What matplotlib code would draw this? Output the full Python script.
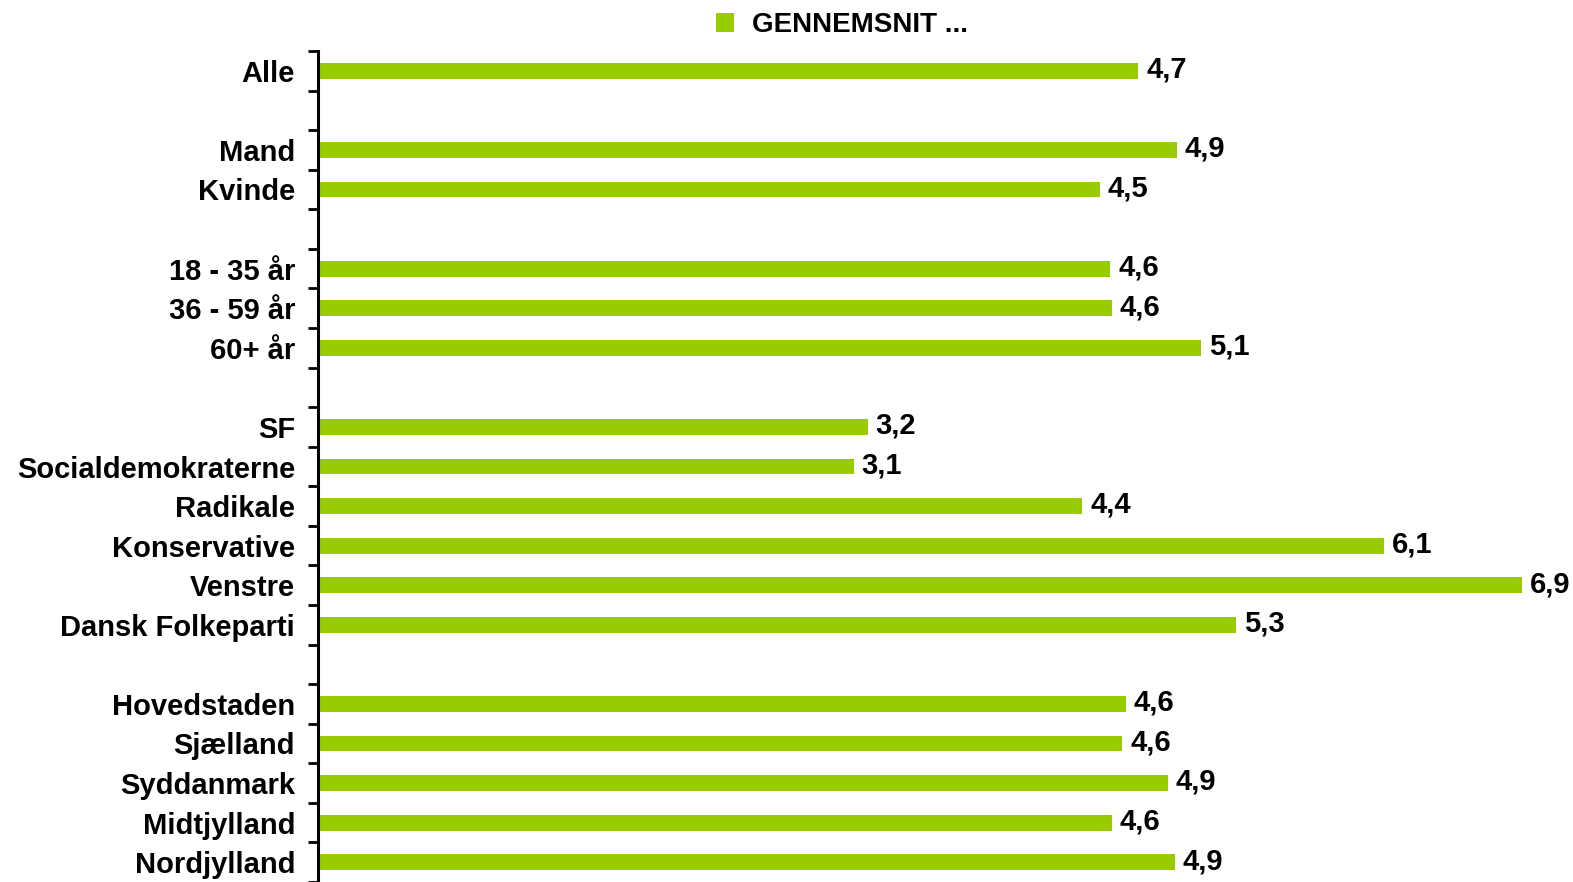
import matplotlib
matplotlib.use("Agg")
import matplotlib.pyplot as plt
import numpy as np

categories = ["Alle", "", "Mand", "Kvinde", "", "18 - 35 år", "36 - 59 år", "60+ år", "",
              "SF", "Socialdemokraterne", "Radikale", "Konservative", "Venstre", "Dansk Folkeparti", "",
              "Hovedstaden", "Sjælland", "Syddanmark", "Midtjylland", "Nordjylland"]
values = [4.70, None, 4.92, 4.48, None, 4.54, 4.55, 5.06, None,
          3.15, 3.07, 4.38, 6.11, 6.90, 5.26, None,
          4.63, 4.61, 4.87, 4.55, 4.91]
value_labels = ["4,7", "", "4,9", "4,5", "", "4,6", "4,6", "5,1", "",
                "3,2", "3,1", "4,4", "6,1", "6,9", "5,3", "",
                "4,6", "4,6", "4,9", "4,6", "4,9"]
series_name = "GENNEMSNIT ..."
color = "#99CC00"

plt.rcParams['font.family'] = ['Liberation Sans', 'DejaVu Sans']

fig = plt.figure(figsize=(15.73, 8.82), dpi=100)
W, H = 1573, 882
x0 = 318
ax = fig.add_axes([x0 / W, 0, 1 - x0 / W, (H - 51) / H])

n = len(categories)
ypos = np.arange(n)
for i, (v, lab) in enumerate(zip(values, value_labels)):
    if v is None:
        continue
    ax.barh(i, v, height=0.4, color=color, label=series_name if i == 0 else None)
    ax.text(v + 0.045, i - 0.03, lab, va="center", ha="left", fontsize=21,
            fontweight="bold", clip_on=False)

ax.set_ylim(n - 0.5, -0.5)
ax.set_xlim(0, (W - x0) / 174.5)

ax.set_yticks(ypos)
ax.set_yticklabels(categories, fontsize=21, fontweight="bold")
ax.set_yticks(np.arange(-0.5, n + 0.5, 1), minor=True)
ax.tick_params(axis="y", which="major", length=0, pad=16.5)
ax.tick_params(axis="y", which="minor", length=7, width=2, direction="out")
ax.set_xticks([])

for s in ["top", "right", "bottom"]:
    ax.spines[s].set_visible(False)
ax.spines["left"].set_linewidth(2.2)

fig.legend(loc="center left", bbox_to_anchor=(716 / W, 1 - 25 / H), frameon=False,
           prop={"size": 20, "weight": "bold"}, handlelength=0.65, handleheight=0.65,
           handletextpad=0.65, borderpad=0, borderaxespad=0)

fig.savefig("out.png", dpi=100)
